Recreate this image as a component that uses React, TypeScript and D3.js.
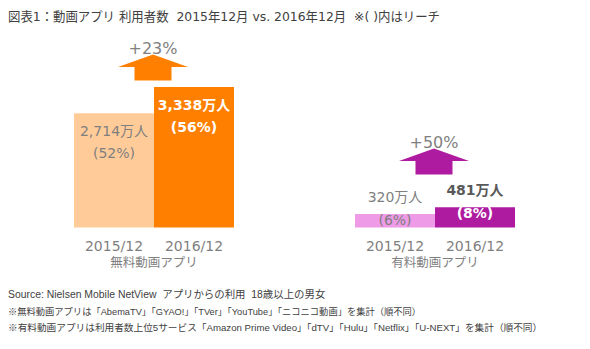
import React, { useLayoutEffect, useRef, useState } from "react";
import * as d3 from "d3";

const groups = ["無料動画アプリ", "有料動画アプリ"];
const years = ["2015/12", "2016/12"];
const freeValues = [2714, 3338];
const paidValues = [320, 481];
const freeReach = ["(52%)", "(56%)"];
const paidReach = ["(6%)", "(8%)"];
const valueLabels = [["2,714万人", "3,338万人"], ["320万人", "481万人"]];
const growthLabels = ["+23%", "+50%"];
const title = "図表1：動画アプリ 利用者数  2015年12月 vs. 2016年12月  ※( )内はリーチ";
const notes = [
  "Source: Nielsen Mobile NetView  アプリからの利用  18歳以上の男女",
  "※無料動画アプリは「AbemaTV」「GYAO!」「TVer」「YouTube」「ニコニコ動画」を集計（順不同）",
  "※有料動画アプリは利用者数上位5サービス「Amazon Prime Video」「dTV」「Hulu」「Netflix」「U-NEXT」を集計（順不同）",
];

const W = 590;
const H = 349;
const FONT = "'DejaVu Sans', 'Noto Sans CJK JP', sans-serif";
const NOTE_FONT = "'Liberation Sans', 'Noto Sans CJK JP', sans-serif";
const GRAY = "#7f7f7f";
const colors = [
  ["#FFCC99", "#FF8000"],
  ["#EE9AE6", "#AE1AA0"],
];
const noteWidths = [318, 414, 535];

export default function App() {
  const noteRefs = useRef<(SVGTextElement | null)[]>([]);
  const [noteSizes, setNoteSizes] = useState<number[]>([10.5, 10.5, 10.5]);

  useLayoutEffect(() => {
    const sizes = noteRefs.current.map((el, i) => {
      if (!el) return 10.5;
      const w = el.getComputedTextLength();
      return w > 0 ? Math.min(11.5, (10.5 * noteWidths[i]) / w) : 10.5;
    });
    setNoteSizes(sizes);
  }, []);

  const baseY = 227.5;
  const y = d3.scaleLinear().domain([0, 3338]).range([baseY, 87]);
  const gx = d3.scaleBand<string>().domain(groups).range([74, 515]).paddingInner(0.4306).paddingOuter(0);
  const ix = d3.scaleBand<string>().domain(years).range([0, gx.bandwidth()]).padding(0);
  const data = [freeValues, paidValues];
  const reach = [freeReach, paidReach];

  const arrow = (cx: number, bottom: number) => {
    const hw = 35, sw = 18.5, sh = 13.5, hh = 12.5;
    const p = d3.path();
    p.moveTo(cx - sw, bottom);
    p.lineTo(cx - sw, bottom - sh);
    p.lineTo(cx - hw, bottom - sh);
    p.lineTo(cx, bottom - sh - hh);
    p.lineTo(cx + hw, bottom - sh);
    p.lineTo(cx + sw, bottom - sh);
    p.lineTo(cx + sw, bottom);
    p.closePath();
    return p.toString();
  };
  const arrowBottoms = [y(3338) - 6.5, 174.5];

  return (
    <svg width={W} height={H} style={{ position: "absolute", left: 0, top: 0, background: "#fff" }} fontFamily={FONT}>
      <text x={8} y={21} fontSize={13} fill="#404040" textLength={432} lengthAdjust="spacingAndGlyphs" style={{ whiteSpace: "pre" }}>
        {title}
      </text>
      {groups.map((g, gi) => {
        const gx0 = gx(g)!;
        const cx = gx0 + gx.bandwidth() / 2 - 1;
        const ab = arrowBottoms[gi];
        return (
          <g key={g}>
            {years.map((yr, i) => {
              const v = data[gi][i];
              const x0 = gx0 + ix(yr)!;
              const bx = x0 + ix.bandwidth() / 2;
              const top = y(v);
              let l1y: number, l2y: number;
              if (gi === 0) {
                l1y = top + 23;
                l2y = top + 45;
              } else {
                l1y = top - 12;
                l2y = top + 10.5;
              }
              const bold = i === 1;
              const l1fill = gi === 0 ? (bold ? "#fff" : GRAY) : bold ? "#595959" : GRAY;
              const l2fill = bold ? "#fff" : GRAY;
              return (
                <g key={yr}>
                  <rect x={x0} y={top} width={ix.bandwidth()} height={baseY - top} fill={colors[gi][i]} />
                  <text x={bx} y={l1y} textAnchor="middle" fontSize={14} fontWeight={bold ? "bold" : "normal"} fill={l1fill}>
                    {valueLabels[gi][i]}
                  </text>
                  <text x={bx} y={l2y} textAnchor="middle" fontSize={14} fontWeight={bold ? "bold" : "normal"} fill={l2fill}>
                    {reach[gi][i]}
                  </text>
                  <text x={bx} y={250.5} textAnchor="middle" fontSize={14} fill={GRAY}>
                    {yr}
                  </text>
                </g>
              );
            })}
            <text x={gx0 + gx.bandwidth() / 2} y={266.5} textAnchor="middle" fontSize={12.5} fill={GRAY}>
              {g}
            </text>
            <path d={arrow(cx, ab)} fill={colors[gi][1]} />
            <text x={cx} y={ab - 27} textAnchor="middle" fontSize={16} fill={GRAY}>
              {growthLabels[gi]}
            </text>
          </g>
        );
      })}
      {notes.map((n, i) => (
        <text
          key={i}
          ref={(el) => {
            noteRefs.current[i] = el;
          }}
          x={8}
          y={298 + i * 16.5}
          fontSize={noteSizes[i]}
          fontFamily={NOTE_FONT}
          fill="#404040"
          style={{ whiteSpace: "pre" }}
        >
          {n}
        </text>
      ))}
    </svg>
  );
}
